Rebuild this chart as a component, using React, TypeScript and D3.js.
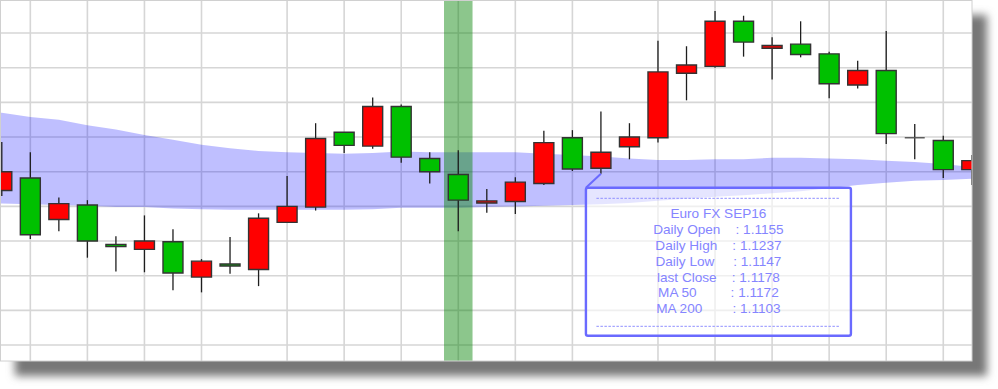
import React from 'react';
import * as d3 from 'd3';

// Daily candles, oldest first
const open = [
  1.1123, 1.1141, 1.1081, 1.1102, 1.1045, 1.1038, 1.1049, 1.0998, 1.1017, 1.1009,
  1.1077, 1.1099, 1.1207, 1.1187, 1.1244, 1.1169, 1.1146, 1.1105, 1.1107, 1.1133,
  1.1199, 1.1155, 1.1186, 1.1199, 1.1292, 1.1302, 1.1367, 1.1328, 1.1334, 1.1320,
  1.1275, 1.1296, 1.1199, 1.1195, 1.1153,
];
const high = [
  1.1193, 1.1178, 1.1113, 1.1109, 1.1057, 1.1087, 1.1067, 1.1024, 1.1056, 1.1090,
  1.1144, 1.1220, 1.1207, 1.1257, 1.1247, 1.1178, 1.1181, 1.1125, 1.1142, 1.1209,
  1.1210, 1.1237, 1.1220, 1.1339, 1.1331, 1.1382, 1.1375, 1.1344, 1.1367, 1.1323,
  1.1310, 1.1353, 1.1219, 1.1202, 1.1174,
];
const low = [
  1.1115, 1.1053, 1.1064, 1.1026, 1.1006, 1.1005, 1.0979, 1.0976, 1.1003, 1.0985,
  1.1076, 1.1094, 1.1177, 1.1183, 1.1163, 1.1133, 1.1064, 1.1091, 1.1089, 1.1131,
  1.1151, 1.1147, 1.1168, 1.1192, 1.1253, 1.1300, 1.1316, 1.1283, 1.1315, 1.1256,
  1.1270, 1.1190, 1.1168, 1.1141, 1.1131,
];
const close = [
  1.1150, 1.1059, 1.1104, 1.1050, 1.1042, 1.1050, 1.1004, 1.1021, 1.1014, 1.1083,
  1.1100, 1.1198, 1.1188, 1.1244, 1.1171, 1.1150, 1.1109, 1.1108, 1.1135, 1.1192,
  1.1154, 1.1178, 1.1200, 1.1294, 1.1304, 1.1367, 1.1337, 1.1332, 1.1319, 1.1277,
  1.1296, 1.1205, 1.1199, 1.1153, 1.1166,
];

// Moving averages of the close
const ma50 = [
  1.1235, 1.1229, 1.1225, 1.1217, 1.1211, 1.1203, 1.1196, 1.1189, 1.1184, 1.1180,
  1.1178, 1.1177, 1.1176, 1.1177, 1.1179, 1.1178, 1.1178, 1.1178, 1.1178, 1.1176,
  1.1174, 1.1172, 1.1169, 1.1167, 1.1167, 1.1168, 1.1168, 1.1170, 1.1170, 1.1169,
  1.1168, 1.1166, 1.1164, 1.1161, 1.1157,
];
const ma200 = [
  1.1104, 1.1103, 1.1102, 1.1101, 1.1099, 1.1099, 1.1097, 1.1096, 1.1095, 1.1095,
  1.1095, 1.1095, 1.1095, 1.1096, 1.1098, 1.1098, 1.1098, 1.1099, 1.1100, 1.1101,
  1.1102, 1.1103, 1.1105, 1.1108, 1.1111, 1.1114, 1.1116, 1.1119, 1.1122, 1.1126,
  1.1131, 1.1134, 1.1137, 1.1138, 1.1140,
];

const priceTicks = [1.09, 1.095, 1.1, 1.105, 1.11, 1.115, 1.12, 1.125, 1.13, 1.135];
const sessionTicks = [1, 3, 5, 7, 10, 12, 14, 16, 18, 20, 23, 25, 27, 29, 31, 33];

const instrument = 'Euro FX SEP16';
const highlightedSession = 16;
const inspectedSession = 21;
const infoLabels = ['Daily Open', 'Daily High', 'Daily Low', 'last Close', 'MA 50', 'MA 200'];
const infoGaps = [4, 4, 5, 4, 9, 8];

const W = 998;
const H = 389;
const CARD_W = 972;
const CARD_H = 361;

const UP = '#ff0000';
const DOWN = '#00c000';
const OUTLINE = '#333333';
const INFO = '#8585ff';

export default function App() {
  const n = open.length;
  const x = d3.scaleLinear().domain([0, n - 1]).range([1.8, 971.8]);
  const step = x(1) - x(0);
  const bodyW = step * 0.7;
  const y = d3.scaleLinear().domain([1.0877, 1.13977]).range([CARD_H, 0]);

  // MA ribbon, extended to the left edge of the card
  const ribbonPts = [
    { t: x.invert(0), a: ma50[0], b: ma200[0] },
    ...ma50.map((v, i) => ({ t: i, a: v, b: ma200[i] })),
  ];
  const ribbon = d3
    .area<{ t: number; a: number; b: number }>()
    .x((d) => x(d.t))
    .y0((d) => y(d.b))
    .y1((d) => y(d.a))
    .curve(d3.curveLinear)(ribbonPts) as string;

  const fmt = d3.format('.4f');
  const k = inspectedSession;
  const infoValues = [open[k], high[k], low[k], close[k], ma50[k], ma200[k]];
  const anchorX = x(k);
  const anchorY = y(low[k]);
  const boxX = anchorX - 15;
  const boxY = anchorY + 14;
  const boxW = 265;
  const boxH = 148;

  return (
    <svg
      width={W}
      height={H}
      viewBox={`0 0 ${W} ${H}`}
      style={{ position: 'fixed', left: 0, top: 0, background: '#fff' }}
      fontFamily="'Liberation Sans', Arial, sans-serif"
    >
      <defs>
        <filter id="cardShadow" x="-5%" y="-5%" width="115%" height="120%">
          <feGaussianBlur stdDeviation="4.5" />
        </filter>
        <clipPath id="cardClip">
          <rect x={0} y={0} width={CARD_W} height={CARD_H} />
        </clipPath>
      </defs>

      <rect x={15} y={15} width={CARD_W} height={CARD_H} fill="#777" filter="url(#cardShadow)" />
      <rect x={0} y={0} width={CARD_W} height={CARD_H} fill="#fff" />

      <g clipPath="url(#cardClip)">
        {priceTicks.map((p) => (
          <line key={`h${p}`} x1={0} x2={CARD_W} y1={y(p)} y2={y(p)} stroke="#d6d6d6" strokeWidth={1.6} />
        ))}
        {sessionTicks.map((i) => (
          <line key={`v${i}`} x1={x(i)} x2={x(i)} y1={0} y2={CARD_H} stroke="#d6d6d6" strokeWidth={1.6} />
        ))}

        <path d={ribbon} fill="rgba(0,0,255,0.25)" />

        <rect
          x={x(highlightedSession) - step / 2}
          y={0}
          width={step}
          height={CARD_H}
          fill="rgba(0,128,0,0.45)"
        />

        {open.map((o, i) => {
          const c = close[i];
          const cx = x(i);
          const top = y(Math.max(o, c));
          const bot = y(Math.min(o, c));
          const fill = c > o ? UP : c < o ? DOWN : 'none';
          const path = d3.path();
          path.rect(cx - bodyW / 2, top, bodyW, bot - top);
          return (
            <g key={`c${i}`}>
              <line x1={cx} x2={cx} y1={y(high[i])} y2={y(low[i])} stroke="#1e1e1e" strokeWidth={1.3} />
              <path
                d={c === o ? `M${cx - bodyW / 2},${top}H${cx + bodyW / 2}` : path.toString()}
                fill={fill}
                stroke={c === o ? '#555' : OUTLINE}
                strokeWidth={1.4}
              />
            </g>
          );
        })}

        <g>
          <line x1={anchorX} y1={anchorY} x2={boxX} y2={boxY} stroke="#6a6aff" strokeWidth={2} />
          <rect
            x={boxX}
            y={boxY}
            width={boxW}
            height={boxH}
            rx={2}
            fill="rgba(255,255,255,0.6)"
            stroke="#6a6aff"
            strokeWidth={2.4}
          />
          {[boxY + 10.5, boxY + boxH - 9.5].map((ly, j) => (
            <line
              key={`d${j}`}
              x1={boxX + 10.5}
              x2={boxX + boxW - 10.5}
              y1={ly}
              y2={ly}
              stroke="#8f8fff"
              strokeWidth={1}
              strokeDasharray="2.5,1.5"
            />
          ))}
          <text
            x={boxX + boxW / 2}
            y={boxY + 30.5}
            textAnchor="middle"
            fontSize={13.6}
            fill={INFO}
          >
            {instrument}
          </text>
          {infoLabels.map((lab, j) => (
            <text
              key={lab}
              x={boxX + boxW / 2}
              y={boxY + 30.5 + (j + 1) * 15.8}
              textAnchor="middle"
              fontSize={13.6}
              fill={INFO}
              xmlSpace="preserve"
              style={{ whiteSpace: 'pre' }}
            >
              {`${lab}${' '.repeat(infoGaps[j])}: ${fmt(infoValues[j])}`}
            </text>
          ))}
        </g>
      </g>

      <rect x={0.5} y={0.5} width={CARD_W - 0.5} height={CARD_H - 0.5} fill="none" stroke="#d0d0d0" strokeWidth={1} />
    </svg>
  );
}
